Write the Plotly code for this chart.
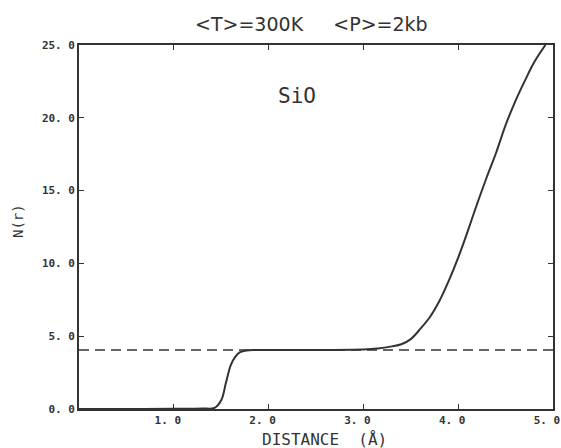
import plotly.graph_objects as go

# N(r) curve
distance = [0.0, 0.5, 1.0, 1.3, 1.43, 1.5, 1.55, 1.6, 1.65, 1.7, 1.77, 1.85, 2.0, 2.5, 3.0, 3.15,
            3.3, 3.4, 3.5, 3.6, 3.7, 3.8, 3.9, 4.0, 4.1, 4.2, 4.3, 4.4, 4.5, 4.6, 4.7, 4.8, 4.92]
n_r = [0.0, 0.0, 0.02, 0.04, 0.08, 0.6, 1.8, 3.0, 3.6, 3.9, 4.02, 4.05, 4.05, 4.06, 4.08, 4.15,
       4.3, 4.45, 4.8, 5.5, 6.3, 7.4, 8.8, 10.4, 12.2, 14.1, 15.9, 17.6, 19.5, 21.1, 22.5, 23.8, 25.0]

plateau_x = [0.0, 5.0]
plateau_y = [4.05, 4.05]

x_tickvals = [1, 2, 3, 4, 5]
x_ticktext = ["1. 0", "2. 0", "3. 0", "4. 0", "5. 0"]
y_tickvals = [0, 5, 10, 15, 20, 25]
y_ticktext = ["0. 0", "5. 0", "10. 0", "15. 0", "20. 0", "25. 0"]

INK = "#333333"
MONO = "DejaVu Sans Mono"

fig = go.Figure()
fig.add_trace(go.Scatter(x=plateau_x, y=plateau_y, mode="lines",
                         line=dict(color=INK, width=1.6, dash="10px,6px"),
                         showlegend=False, hoverinfo="skip"))
fig.add_trace(go.Scatter(x=distance, y=n_r, mode="lines", line_shape="spline",
                         line=dict(color=INK, width=2),
                         showlegend=False))

axis_common = dict(showgrid=False, zeroline=False, showline=True, linecolor=INK,
                   linewidth=1.6, mirror="ticks", ticks="inside", ticklen=5,
                   tickwidth=1.2, tickcolor=INK, automargin=False,
                   tickfont=dict(family=MONO, size=11, color=INK, weight="bold"))

fig.update_xaxes(range=[0, 5], tickvals=x_tickvals, ticktext=x_ticktext,
                 ticklabelshift=-6, **axis_common)
fig.update_yaxes(range=[0, 25], tickvals=y_tickvals, ticktext=y_ticktext,
                 **axis_common)

# panel label
fig.add_annotation(x=2.3, y=21.5, text="SiO", showarrow=False,
                   font=dict(family=MONO, size=21, color=INK))

# titles (placed in pixels relative to the plot area)
fig.add_annotation(xref="paper", yref="paper", x=(311 - 79) / 474, y=1 + (45 - 24.5) / 364,
                   text="&lt;T&gt;=300K&nbsp;&nbsp;&nbsp;&nbsp;&nbsp;&lt;P&gt;=2kb",
                   showarrow=False, xanchor="center", yanchor="middle",
                   font=dict(family="DejaVu Sans", size=19, color=INK))
fig.add_annotation(xref="paper", yref="paper", x=(324 - 79) / 474, y=-(439 - 409) / 364,
                   text="DISTANCE&nbsp;&nbsp;(Å)", showarrow=False,
                   xanchor="center", yanchor="middle",
                   font=dict(family=MONO, size=16, color=INK))
fig.add_annotation(xref="paper", yref="paper", x=-(79 - 18) / 474, y=(409 - 221) / 364,
                   text="N(r)", showarrow=False, textangle=-90,
                   xanchor="center", yanchor="middle",
                   font=dict(family=MONO, size=14, color=INK))

fig.update_layout(
    width=561, height=448,
    margin=dict(l=79, r=8, t=45, b=39),
    paper_bgcolor="white", plot_bgcolor="white",
)

fig.write_html("out.html", config={"displayModeBar": False},
               post_script="document.body.style.margin='0';document.body.style.overflow='hidden';")
